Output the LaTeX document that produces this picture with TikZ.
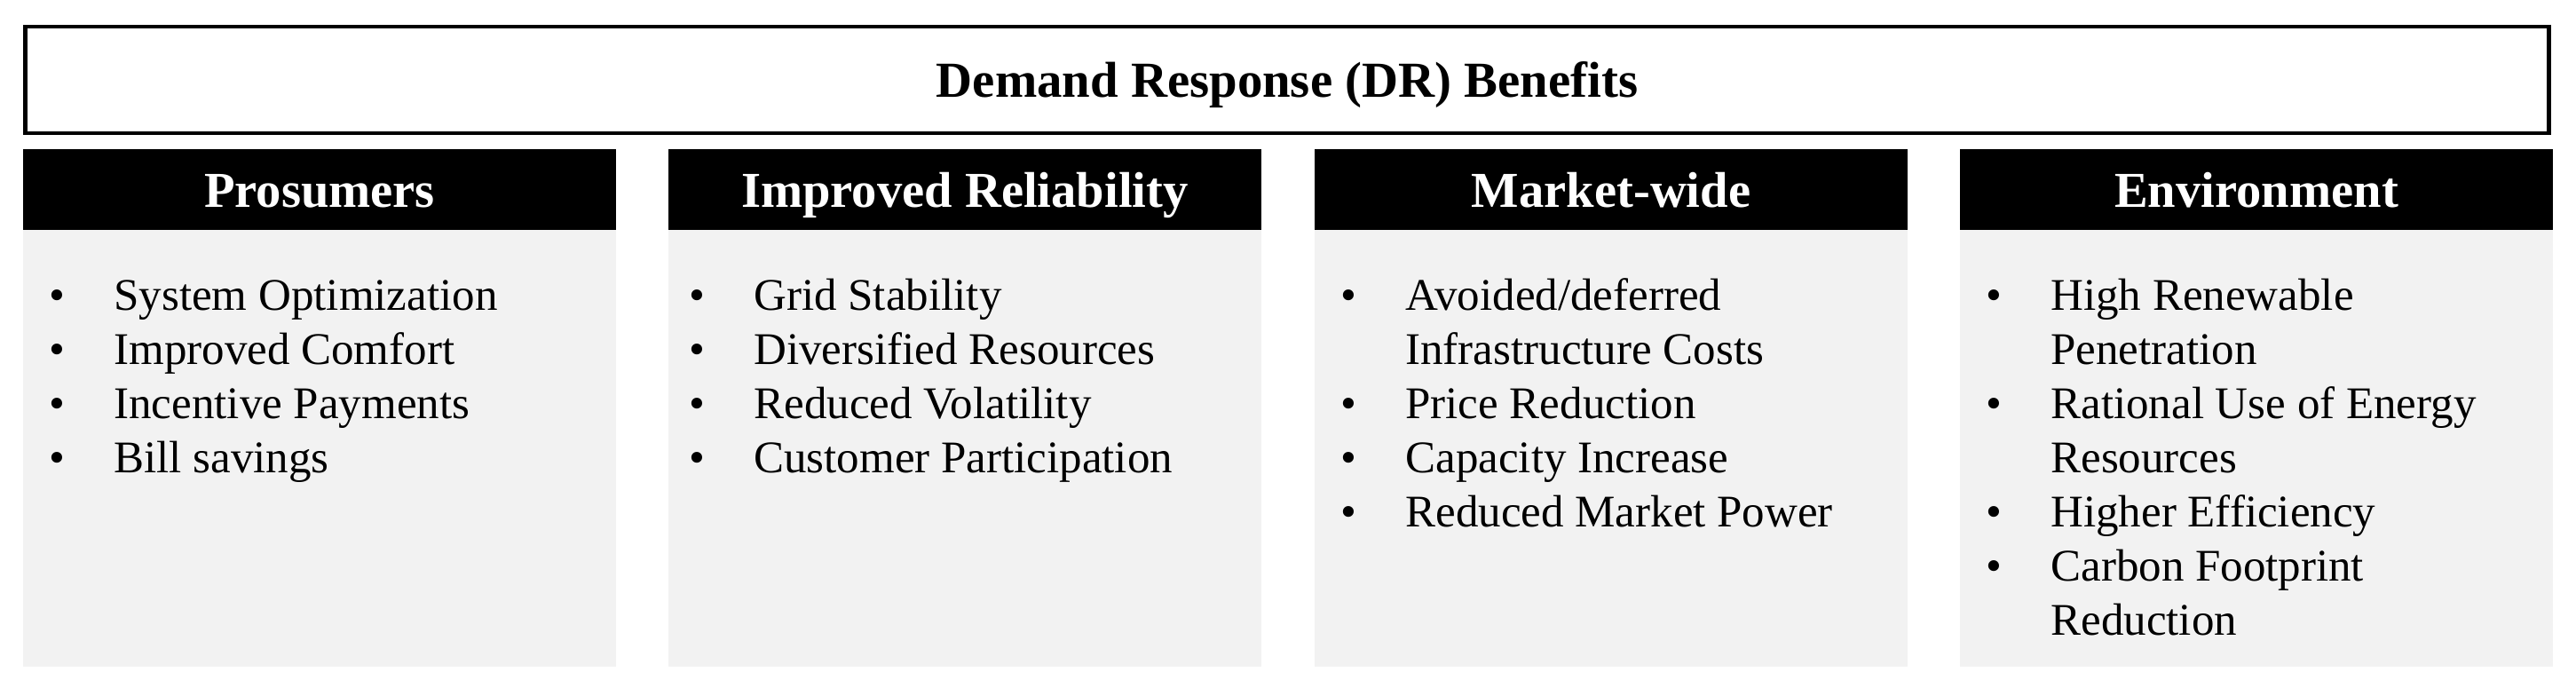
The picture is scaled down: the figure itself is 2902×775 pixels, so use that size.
\documentclass[tikz,border=0pt]{standalone}
\usepackage{fontspec}
\setmainfont{Liberation Serif}
\usepackage{array}
\definecolor{panelgray}{HTML}{F2F2F2}
\tikzset{
  titlebox/.style={draw=black, line width=2.3pt, fill=white},
  headbox/.style={fill=black, draw=none},
  panelbox/.style={fill=panelgray, draw=none},
  titletext/.style={font=\fontsize{28.4}{34}\selectfont\bfseries, text=black, inner sep=0pt, anchor=base},
  headtext/.style={font=\fontsize{28.3}{34}\selectfont\bfseries, text=white, inner sep=0pt, anchor=base},
  listtext/.style={font=\fontsize{25.5}{30.5}\selectfont, text=black, inner sep=0pt, anchor=base west, align=left},
}
\newcommand{\blist}[1]{\begin{tabular}[t]{@{}>{\raggedright}p{36.5pt}@{}l@{}}#1\end{tabular}}
\begin{document}
\begin{tikzpicture}[x=0.5pt,y=-0.5pt]
\useasboundingbox (0,0) rectangle (2902,775);
% title
\draw[titlebox] (28.5,30) rectangle (2871.5,150);
\node[titletext] (title) at (1450,110) {Demand Response (DR) Benefits};
% panels
\foreach \i/\lx in {1/26,2/753,3/1481,4/2208}{
  \fill[panelbox] (\lx,259) rectangle ++(668,492);
  \fill[headbox] (\lx,168) rectangle ++(668,91);
}
\node[headtext] (h1) at (360,234) {Prosumers};
\node[headtext] (h2) at (1087,234) {Improved Reliability};
\node[headtext] (h3) at (1815,234) {Market-wide};
\node[headtext] (h4) at (2542,234) {Environment};
% lists
\node[listtext] (l1) at (55,350) {\blist{%
\textbullet & System Optimization\tabularnewline
\textbullet & Improved Comfort\tabularnewline
\textbullet & Incentive Payments\tabularnewline
\textbullet & Bill savings}};
\node[listtext] (l2) at (776,350) {\blist{%
\textbullet & Grid Stability\tabularnewline
\textbullet & Diversified Resources\tabularnewline
\textbullet & Reduced Volatility\tabularnewline
\textbullet & Customer Participation}};
\node[listtext] (l3) at (1510,350) {\blist{%
\textbullet & Avoided/deferred\tabularnewline
 & Infrastructure Costs\tabularnewline
\textbullet & Price Reduction\tabularnewline
\textbullet & Capacity Increase\tabularnewline
\textbullet & Reduced Market Power}};
\node[listtext] (l4) at (2237,350) {\blist{%
\textbullet & High Renewable\tabularnewline
 & Penetration\tabularnewline
\textbullet & Rational Use of Energy\tabularnewline
 & Resources\tabularnewline
\textbullet & Higher Efficiency\tabularnewline
\textbullet & Carbon Footprint\tabularnewline
 & Reduction}};
\end{tikzpicture}
\end{document}
